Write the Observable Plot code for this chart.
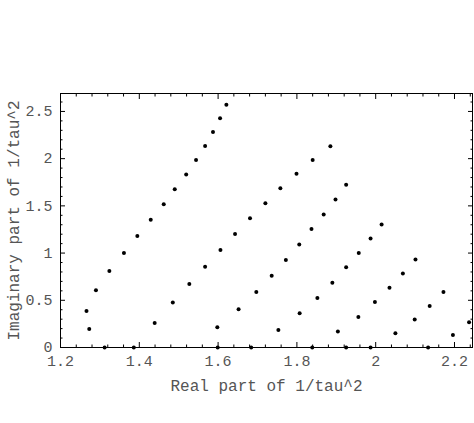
<!DOCTYPE html>
<html><head><meta charset="utf-8">
<script src="https://cdn.jsdelivr.net/npm/d3@7"></script>
<script src="https://cdn.jsdelivr.net/npm/@observablehq/plot@0.6"></script>
<style>body{margin:0;background:#fff}</style>
</head><body><div id="chart"></div>
<script>
// Series of eigenvalues (real part, imaginary part of 1/tau^2)
const reA = [1.273, 1.266, 1.290, 1.324, 1.361, 1.395, 1.429, 1.462, 1.490, 1.519, 1.544, 1.567, 1.587, 1.605, 1.621];
const imA = [0.197, 0.387, 0.606, 0.810, 1.000, 1.180, 1.353, 1.518, 1.677, 1.832, 1.987, 2.135, 2.283, 2.427, 2.572];
const reB = [1.439, 1.485, 1.527, 1.567, 1.606, 1.643, 1.681, 1.720, 1.758, 1.799, 1.840, 1.885];
const imB = [0.260, 0.476, 0.672, 0.856, 1.032, 1.201, 1.370, 1.529, 1.687, 1.839, 1.987, 2.131];
const reC = [1.598, 1.652, 1.697, 1.736, 1.772, 1.806, 1.837, 1.868, 1.898, 1.925];
const imC = [0.215, 0.405, 0.588, 0.761, 0.926, 1.092, 1.254, 1.409, 1.568, 1.723];
const reD = [1.753, 1.807, 1.852, 1.890, 1.925, 1.957, 1.987, 2.015];
const imD = [0.186, 0.363, 0.524, 0.687, 0.849, 1.000, 1.155, 1.303];
const reE = [1.904, 1.956, 1.998, 2.035, 2.069, 2.101];
const imE = [0.169, 0.324, 0.482, 0.634, 0.785, 0.933];
const reF = [2.050, 2.099, 2.137, 2.172];
const imF = [0.151, 0.296, 0.440, 0.588];
const reG = [2.196, 2.237];
const imG = [0.133, 0.267];
const reZero = [1.312, 1.386, 1.599, 1.684, 1.839, 1.925, 1.987, 2.133];
const imZero = [0, 0, 0, 0, 0, 0, 0, 0];

const xTicks = [1.2, 1.4, 1.6, 1.8, 2, 2.2];
const yTicks = [0, 0.5, 1, 1.5, 2, 2.5];
const xTitle = "Real part of 1/tau^2";
const yTitle = "Imaginary part of 1/tau^2";

const seriesRe = [reA, reB, reC, reD, reE, reF, reG, reZero];
const seriesIm = [imA, imB, imC, imD, imE, imF, imG, imZero];
const points = [];
seriesRe.forEach((res, s) => res.forEach((re, i) => points.push({re, im: seriesIm[s][i]})));

const near = (v, arr) => arr.some(t => Math.abs(t - v) < 1e-6);
const xMinor = d3.range(0, 27).map(i => +(1.2 + i * 0.04).toFixed(2)).filter(v => !near(v, xTicks) && v <= 2.245);
const yMinor = d3.range(0, 27).map(i => +(i * 0.1).toFixed(1)).filter(v => !near(v, yTicks) && v <= 2.69);

const fmt = d => String(+d.toFixed(2));
const blank = () => "";
const font = "'Liberation Mono', 'DejaVu Sans Mono', monospace";
const textColor = "#555";

const chart = Plot.plot({
  width: 474,
  height: 423,
  marginLeft: 60,
  marginRight: 2,
  marginTop: 93,
  marginBottom: 76,
  x: {domain: [1.2, 2.2457]},
  y: {domain: [0, 2.69]},
  style: {fontFamily: font, fontSize: "15px", background: "white", color: textColor},
  marks: [
    // minor ticks, all four sides, pointing inward
    Plot.axisX(xMinor, {anchor: "bottom", tickSize: -2.5, tickFormat: blank, label: null, stroke: "black"}),
    Plot.axisX(xMinor, {anchor: "top", tickSize: -2.5, tickFormat: blank, label: null, stroke: "black"}),
    Plot.axisY(yMinor, {anchor: "left", tickSize: -2.5, tickFormat: blank, label: null, stroke: "black"}),
    Plot.axisY(yMinor, {anchor: "right", tickSize: -2.5, tickFormat: blank, label: null, stroke: "black"}),
    // major ticks
    Plot.axisX(xTicks, {anchor: "bottom", tickSize: -5, tickPadding: 12.5, tickFormat: fmt, label: null, stroke: "black", fill: textColor}),
    Plot.axisX(xTicks, {anchor: "top", tickSize: -5, tickFormat: blank, label: null, stroke: "black"}),
    Plot.axisY(yTicks, {anchor: "left", tickSize: -5, tickPadding: 13, tickFormat: fmt, label: null, stroke: "black", fill: textColor}),
    Plot.axisY(yTicks, {anchor: "right", tickSize: -5, tickFormat: blank, label: null, stroke: "black"}),
    Plot.frame({stroke: "black", strokeWidth: 1}),
    Plot.dot(points, {x: "re", y: "im", r: 2, fill: "black", stroke: null}),
    Plot.text([xTitle], {text: d => d, frameAnchor: "bottom", dy: 38, textAnchor: "middle", lineAnchor: "middle", fontSize: 16, fill: textColor}),
    Plot.text([yTitle], {text: d => d, frameAnchor: "left", dx: -47, rotate: -90, textAnchor: "middle", lineAnchor: "middle", fontSize: 16, fill: textColor})
  ]
});
document.getElementById("chart").appendChild(chart);
</script>
</body></html>
